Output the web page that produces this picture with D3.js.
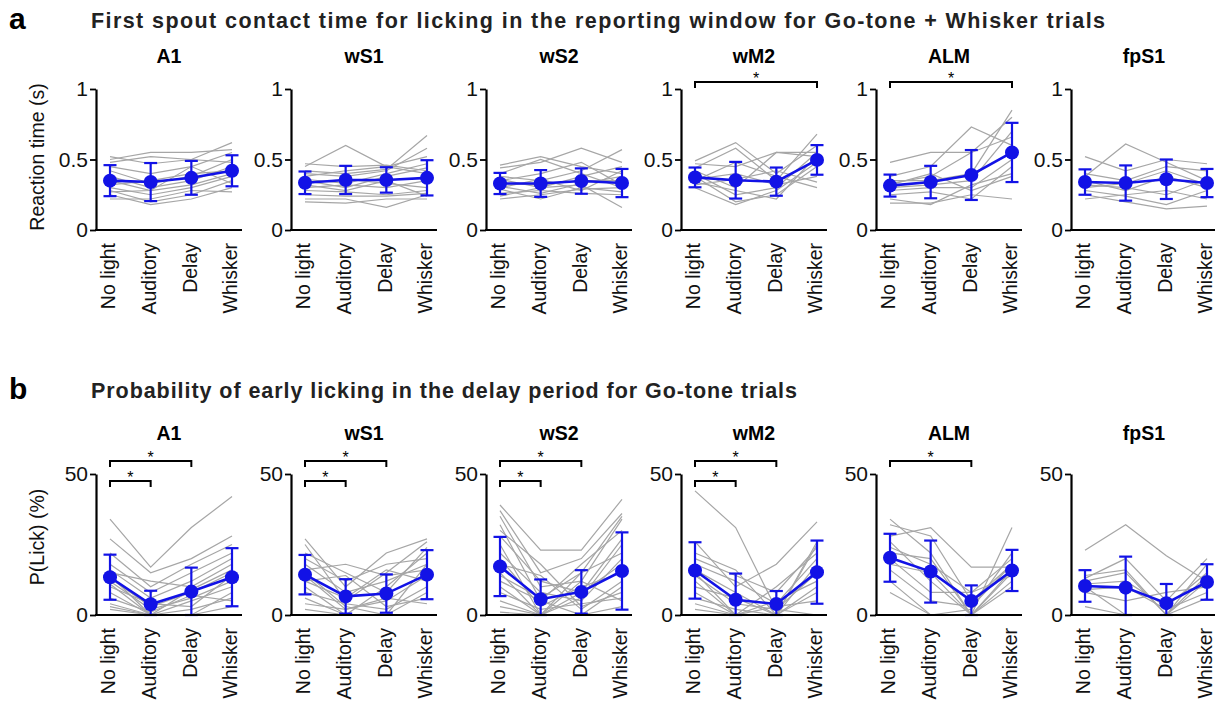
<!DOCTYPE html>
<html><head><meta charset="utf-8">
<script src="https://cdn.jsdelivr.net/npm/d3@7"></script>
<style>
body{margin:0;background:#fff;}
svg{display:block;font-family:"Liberation Sans",Arial,Helvetica,sans-serif;}
</style></head><body>
<svg id="fig" width="1215" height="708"></svg>
<script>
// ---- data ----
const categories = ["No light", "Auditory", "Delay", "Whisker"];
const regions = ["A1", "wS1", "wS2", "wM2", "ALM", "fpS1"];

// a: reaction time (s), mean and SD per region
const rtMean = [
  [0.35, 0.34, 0.37, 0.42],
  [0.335, 0.355, 0.355, 0.37],
  [0.33, 0.33, 0.347, 0.333],
  [0.373, 0.353, 0.343, 0.497],
  [0.315, 0.34, 0.39, 0.55],
  [0.34, 0.333, 0.36, 0.333]
];
const rtSd = [
  [0.11, 0.135, 0.12, 0.11],
  [0.08, 0.10, 0.09, 0.125],
  [0.075, 0.095, 0.09, 0.10],
  [0.07, 0.13, 0.10, 0.105],
  [0.078, 0.115, 0.177, 0.21],
  [0.09, 0.125, 0.14, 0.10]
];
// a: individual mice
const rtMiceA1 = [[0.52,0.47,0.50,0.62],[0.50,0.55,0.55,0.57],[0.48,0.52,0.50,0.48],[0.45,0.40,0.45,0.55],[0.42,0.33,0.38,0.50],[0.38,0.30,0.35,0.45],[0.35,0.28,0.32,0.40],[0.30,0.25,0.30,0.38],[0.28,0.20,0.25,0.35],[0.25,0.18,0.22,0.30],[0.22,0.22,0.28,0.27],[0.32,0.35,0.40,0.42],[0.27,0.28,0.45,0.33]];
const rtMiceWS1 = [[0.45,0.60,0.45,0.40],[0.42,0.40,0.43,0.67],[0.40,0.38,0.42,0.58],[0.38,0.42,0.45,0.52],[0.36,0.33,0.40,0.47],[0.35,0.30,0.38,0.44],[0.33,0.36,0.33,0.30],[0.30,0.32,0.30,0.35],[0.28,0.27,0.25,0.28],[0.25,0.24,0.24,0.26],[0.22,0.22,0.16,0.25],[0.20,0.19,0.22,0.22],[0.47,0.45,0.46,0.42],[0.32,0.28,0.35,0.24]];
const rtMiceWS2 = [[0.46,0.52,0.45,0.40],[0.44,0.48,0.58,0.48],[0.40,0.50,0.40,0.30],[0.38,0.35,0.42,0.57],[0.36,0.30,0.38,0.45],[0.33,0.32,0.35,0.35],[0.31,0.26,0.33,0.38],[0.29,0.22,0.30,0.27],[0.26,0.28,0.26,0.25],[0.24,0.30,0.32,0.16],[0.22,0.25,0.29,0.30],[0.35,0.40,0.48,0.32],[0.30,0.36,0.28,0.42]];
const rtMiceWM2 = [[0.49,0.62,0.40,0.60],[0.47,0.45,0.55,0.55],[0.44,0.58,0.35,0.68],[0.42,0.30,0.55,0.52],[0.40,0.25,0.30,0.55],[0.38,0.20,0.25,0.45],[0.36,0.40,0.32,0.38],[0.34,0.28,0.22,0.53],[0.32,0.36,0.42,0.34],[0.30,0.18,0.28,0.48],[0.35,0.48,0.38,0.30]];
const rtMiceALM = [[0.48,0.55,0.55,0.66],[0.38,0.45,0.73,0.60],[0.35,0.35,0.40,0.85],[0.33,0.38,0.55,0.80],[0.30,0.32,0.35,0.70],[0.28,0.30,0.30,0.50],[0.25,0.27,0.22,0.45],[0.22,0.18,0.32,0.40],[0.19,0.19,0.25,0.22],[0.32,0.40,0.28,0.38]];
const rtMiceFPS1 = [[0.52,0.42,0.50,0.47],[0.38,0.61,0.48,0.35],[0.40,0.35,0.45,0.42],[0.35,0.28,0.38,0.30],[0.32,0.30,0.25,0.36],[0.28,0.24,0.18,0.28],[0.25,0.20,0.15,0.17],[0.22,0.25,0.28,0.22],[0.30,0.33,0.42,0.32]];
const rtMice = [rtMiceA1, rtMiceWS1, rtMiceWS2, rtMiceWM2, rtMiceALM, rtMiceFPS1];
// a: significant pairs (category indices), per region
const rtSig = [[], [], [], [[0, 3]], [[0, 3]], []];

// b: early lick probability (%), mean and SD per region
const lickMean = [
  [13.4, 3.8, 8.3, 13.4],
  [14.3, 6.6, 7.6, 14.3],
  [17.2, 5.6, 8.2, 15.6],
  [15.8, 5.4, 3.9, 15.2],
  [20.3, 15.4, 5.0, 15.8],
  [10.3, 9.7, 4.2, 11.7]
];
const lickSd = [
  [8.0, 4.8, 8.5, 10.3],
  [7.0, 6.1, 6.8, 8.7],
  [10.5, 7.0, 7.7, 13.7],
  [10.0, 9.3, 4.6, 11.2],
  [8.5, 11.0, 5.5, 7.3],
  [5.6, 11.0, 6.8, 6.3]
];
const lickMiceA1 = [[34,17,31,42],[27,15,20,28],[22,10,18,25],[18,8,15,22],[16,6,12,20],[15,12,10,18],[13,3,8,15],[12,2,6,12],[11,0,5,10],[10,4,3,14],[8,0,2,6],[6,1,7,5],[4,0,0,3],[3,0,0,0],[2,0,0,8],[14,0,9,16]];
const lickMiceWS1 = [[27,10,22,27],[25,5,15,26],[22,15,8,24],[20,12,18,20],[18,8,12,18],[16,18,14,16],[14,2,5,14],[12,6,16,12],[10,0,10,22],[8,4,2,10],[6,0,0,8],[4,2,6,4],[2,0,0,0],[12,14,3,6],[15,3,0,18]];
const lickMiceWS2 = [[39,23,23,41],[37,15,20,36],[35,10,12,34],[32,5,18,30],[28,12,8,27],[25,0,15,35],[22,8,5,20],[20,3,10,15],[18,14,2,12],[15,0,6,25],[12,5,0,10],[10,0,8,18],[8,2,4,6],[5,0,0,3],[3,0,12,5],[1,0,0,0],[14,6,15,22],[30,18,3,8]];
const lickMiceWM2 = [[44,31,2,0],[26,10,18,33],[22,16,0,26],[18,12,4,20],[16,8,0,25],[14,4,2,15],[12,0,10,22],[10,6,0,18],[8,0,5,12],[6,2,0,10],[4,0,0,8],[2,0,0,0],[20,14,8,24],[15,0,3,5]];
const lickMiceALM = [[34,22,0,31],[32,28,5,18],[28,31,17,17],[24,18,8,20],[22,20,0,15],[20,8,8,14],[18,15,0,12],[16,5,3,18],[12,0,0,10],[8,0,2,22],[26,12,0,16]];
const lickMiceFPS1 = [[23,32,21,12],[13,20,5,20],[12,15,0,18],[11,12,3,15],[10,0,0,12],[9,10,2,8],[8,5,8,10],[3,0,0,6],[14,16,0,14]];
const lickMice = [lickMiceA1, lickMiceWS1, lickMiceWS2, lickMiceWM2, lickMiceALM, lickMiceFPS1];
const lickSig = [[[0, 2], [0, 1]], [[0, 2], [0, 1]], [[0, 2], [0, 1]], [[0, 2], [0, 1]], [[0, 2]], []];

const rtTicks = [0, 0.5, 1];
const lickTicks = [0, 50];

// ---- layout & style ----
const BLUE = "#1212e6";
const GREY = "#a6a6a6";
const X0 = 96, DX = 195, AXW = 146;

const svg = d3.select("#fig");

function panelTitle(letter, text, y, width) {
  svg.append("text").attr("x", 9).attr("y", y + 1)
    .attr("font-size", 30).attr("font-weight", "bold").text(letter);
  svg.append("text").attr("x", 91).attr("y", y)
    .attr("font-size", 21.5).attr("font-weight", "bold").attr("fill", "#222")
    .attr("textLength", width).attr("lengthAdjust", "spacing").text(text);
}

function drawRow(cfg) {
  regions.forEach((name, i) => {
    const g = svg.append("g").attr("transform", `translate(${X0 + i * DX},0)`);
    const x = d3.scalePoint().domain(categories).range([14, 136]);
    const y = d3.scaleLinear().domain(cfg.domain).range([cfg.bottom, cfg.top]);
    const line = d3.line().x((d, k) => x(categories[k])).y(d => y(d));

    // subplot title
    g.append("text").attr("x", AXW / 2).attr("y", cfg.titleY)
      .attr("text-anchor", "middle").attr("font-size", 19.5).attr("font-weight", "bold")
      .text(name);

    // individual animals
    g.append("g").selectAll("path").data(cfg.mice[i]).join("path")
      .attr("d", line).attr("fill", "none").attr("stroke", GREY).attr("stroke-width", 1.2);

    // mean line
    g.append("path").attr("d", line(cfg.mean[i])).attr("fill", "none")
      .attr("stroke", BLUE).attr("stroke-width", 2.6);

    // error bars
    const eb = g.append("g").attr("stroke", BLUE).attr("stroke-width", 2.2);
    cfg.mean[i].forEach((m, k) => {
      const cx = x(categories[k]);
      const lo = Math.max(cfg.domain[0], m - cfg.sd[i][k]);
      const hi = m + cfg.sd[i][k];
      eb.append("line").attr("x1", cx).attr("x2", cx).attr("y1", y(lo)).attr("y2", y(hi));
      [lo, hi].forEach(v => eb.append("line").attr("x1", cx - 6.5).attr("x2", cx + 6.5)
        .attr("y1", y(v)).attr("y2", y(v)));
    });
    g.append("g").selectAll("circle").data(cfg.mean[i]).join("circle")
      .attr("cx", (d, k) => x(categories[k])).attr("cy", d => y(d)).attr("r", 7)
      .attr("fill", BLUE);

    // axes
    const ya = g.append("g").call(d3.axisLeft(y).tickValues(cfg.ticks).tickSize(6).tickSizeOuter(0)
      .tickFormat(d3.format("")));
    ya.select(".domain").attr("stroke-width", 2.2);
    ya.selectAll(".tick line").attr("stroke-width", 1.8);
    ya.selectAll(".tick text").attr("font-size", 21).attr("font-family", null).attr("x", -8).attr("fill", "#111");

    g.append("line").attr("x1", -1).attr("x2", AXW).attr("y1", cfg.bottom).attr("y2", cfg.bottom)
      .attr("stroke", "#000").attr("stroke-width", 2.2);

    const xa = g.append("g").attr("transform", `translate(0,${cfg.bottom})`)
      .call(d3.axisBottom(x).tickSize(0).tickSizeOuter(0));
    xa.select(".domain").remove();
    xa.selectAll(".tick text").attr("font-size", 19.5).attr("font-family", null).attr("fill", "#111")
      .attr("transform", "rotate(-90)").attr("x", -13).attr("y", 0).attr("dy", "0.24em")
      .style("text-anchor", "end");

    // significance brackets
    cfg.sig[i].forEach((pair, lvl) => {
      const by = cfg.top + cfg.bracketOff[lvl];
      const xa1 = x(categories[pair[0]]), xa2 = x(categories[pair[1]]);
      g.append("path").attr("d", `M${xa1},${by + 6}V${by}H${xa2}V${by + 6}`)
        .attr("fill", "none").attr("stroke", "#000").attr("stroke-width", 2);
      g.append("text").attr("x", (xa1 + xa2) / 2).attr("y", by + 2)
        .attr("text-anchor", "middle").attr("font-size", 16).text("*");
    });
  });

  // y axis label
  svg.append("text").attr("transform", `translate(44,${cfg.labelY}) rotate(-90)`)
    .attr("text-anchor", "middle").attr("font-size", 19.5).attr("fill", "#111").text(cfg.ylabel);
}

panelTitle("a", "First spout contact time for licking in the reporting window for Go-tone + Whisker trials", 28, 1014);
panelTitle("b", "Probability of early licking in the delay period for Go-tone trials", 398, 706);

drawRow({
  domain: [0, 1], top: 89, bottom: 230, ticks: rtTicks, titleY: 63,
  mean: rtMean, sd: rtSd, mice: rtMice, sig: rtSig, bracketOff: [-7],
  ylabel: "Reaction time (s)", labelY: 157
});
drawRow({
  domain: [0, 50], top: 474, bottom: 615, ticks: lickTicks, titleY: 440,
  mean: lickMean, sd: lickSd, mice: lickMice, sig: lickSig, bracketOff: [-13, 7],
  ylabel: "P(Lick) (%)", labelY: 537
});
</script>
</body></html>
